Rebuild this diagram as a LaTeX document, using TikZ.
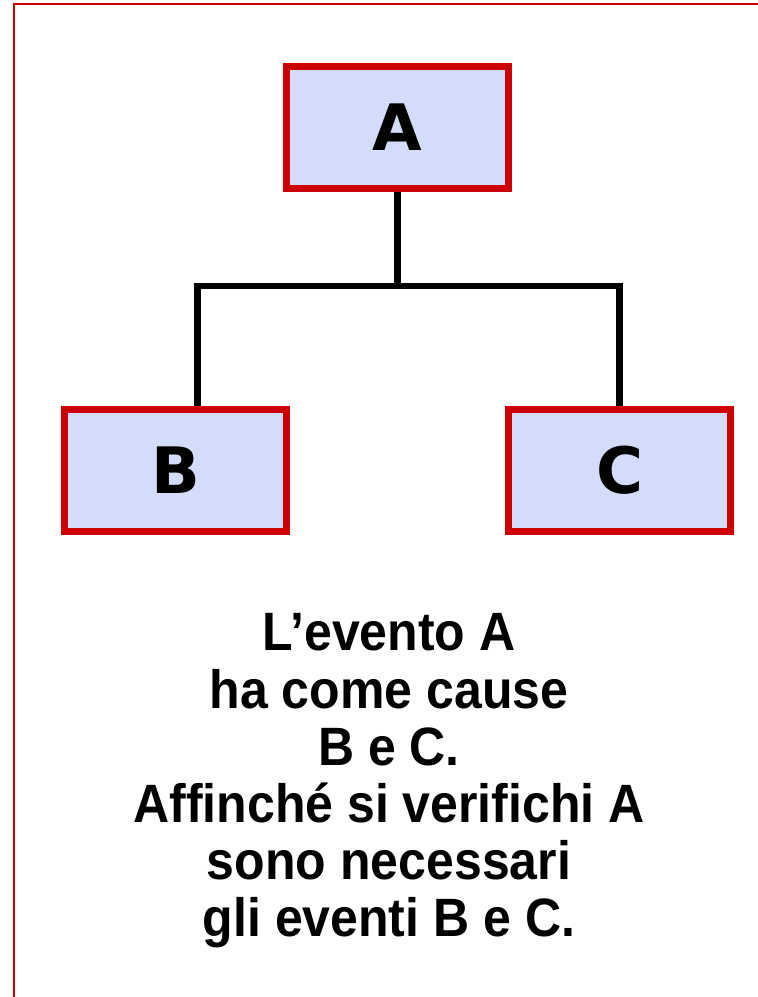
\documentclass[tikz,border=0pt]{standalone}
\usepackage{fontspec}
\usepackage{tikz}
\usetikzlibrary{trees}
\usepackage{xcolor}
\newfontfamily\boxfont{DejaVu Sans}
\newfontfamily\notefont{Liberation Sans}[FakeStretch=0.926]
\definecolor{boxred}{RGB}{204,0,0}
\definecolor{boxblue}{RGB}{211,221,250}
\tikzset{evbox/.style={draw=boxred, line width=7pt, fill=boxblue,
	minimum width=222pt, minimum height=122pt, inner sep=0pt,
	font=\boxfont\bfseries\fontsize{64}{64}\selectfont}}
\begin{document}
\begin{tikzpicture}[%
	x=1pt, y=1pt,
	level distance=342.5pt, sibling distance=444pt,
	edge from parent/.style={draw, line width=6.5pt},
	edge from parent path={(\tikzparentnode.south) -- ++(0,-94) -| (\tikzchildnode.north)}]
	\useasboundingbox (0,0) rectangle (758,-997);
	\draw[boxred, line width=2pt] (14,-997) -- (14,-3.5) -- (758,-3.5);
	\node[evbox] (evA) at (397.5,-127.5) {A}
		child[edge from parent path={(\tikzparentnode.south) -- ++(0,-94) -| ([xshift=22pt]\tikzchildnode.north)}]
			{ node[evbox] (evB) {B}}
		child { node[evbox] (evC) {C}};
	\node[align=center, inner sep=0pt,
		font=\notefont\bfseries\fontsize{54}{57.2}\selectfont] (note) at (389,-781)
		{L’evento A\\ha come cause\\B e C.\\Affinché si verifichi A\\sono necessari\\gli eventi B e C.};
\end{tikzpicture}
\end{document}
